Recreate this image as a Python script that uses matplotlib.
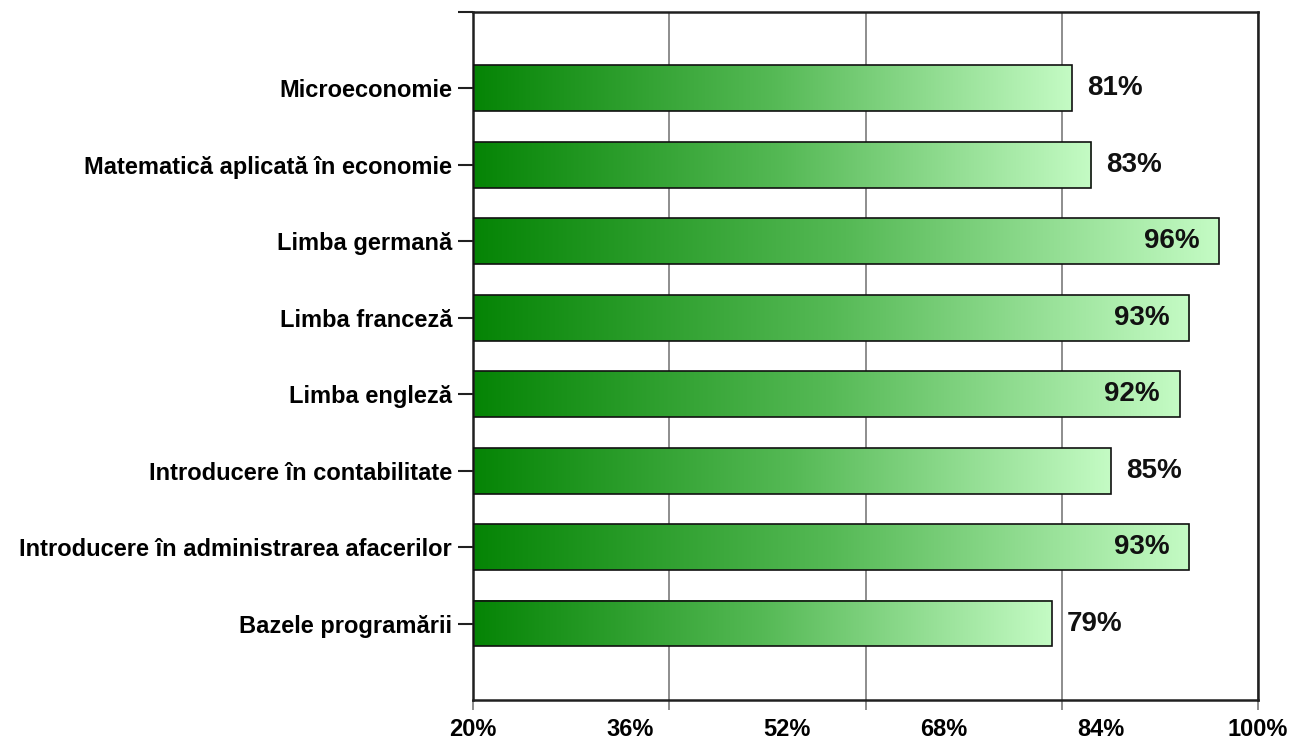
"""Horizontal bar chart with green gradient bars — pass rate per course."""

import matplotlib

matplotlib.use("Agg")
import matplotlib.pyplot as plt
import numpy as np
from matplotlib.colors import LinearSegmentedColormap

# Courses, top to bottom as they appear in the chart.
COURSES = [
    "Microeconomie",
    "Matematică aplicată în economie",
    "Limba germană",
    "Limba franceză",
    "Limba engleză",
    "Introducere în contabilitate",
    "Introducere în administrarea afacerilor",
    "Bazele programării",
]
PASS_RATE = [81, 83, 96, 93, 92, 85, 93, 79]

GRID_TICKS = [20, 40, 60, 80, 100]
LABEL_TICKS = [20, 36, 52, 68, 84, 100]
LABEL_TEXT = ["20%", "36%", "52%", "68%", "84%", "100%"]

X_MIN, X_MAX = 20, 100
BAR_HEIGHT = 0.6
INSIDE_LABEL_FROM = 90  # labels that would overflow the plot go inside

GRADIENT = LinearSegmentedColormap.from_list(
    "green_fade", ["#058405", "#55b955", "#c4fbc4"]
)
SPINE_COLOR = "#202020"
GRID_COLOR = "#7a7a7a"
FONT = "Liberation Sans"

plt.rcParams["font.family"] = [FONT, "DejaVu Sans"]
plt.rcParams["font.weight"] = "bold"

fig = plt.figure(figsize=(13.05, 7.42), dpi=100)
ax = fig.add_axes([0.3625, 0.0566, 0.6015, 0.9274])

n = len(COURSES)
ypos = np.arange(n)[::-1]  # first course on top
ramp = np.linspace(0, 1, 256).reshape(1, -1)

for y, v in zip(ypos, PASS_RATE):
    ax.imshow(
        ramp, cmap=GRADIENT, aspect="auto", interpolation="bilinear",
        extent=(X_MIN, v, y - BAR_HEIGHT / 2, y + BAR_HEIGHT / 2), zorder=2,
    )

ax.barh(
    ypos, [v - X_MIN for v in PASS_RATE], left=X_MIN, height=BAR_HEIGHT,
    facecolor="none", edgecolor="#111111", linewidth=1.2, zorder=3,
)

for y, v in zip(ypos, PASS_RATE):
    if v >= INSIDE_LABEL_FROM:
        ax.annotate(f"{v}%", (v, y), xytext=(-14, 0), textcoords="offset points",
                    ha="right", va="center", fontsize=20, fontweight="bold",
                    color="#111111", zorder=4)
    else:
        ax.annotate(f"{v}%", (v, y), xytext=(11, 0), textcoords="offset points",
                    ha="left", va="center", fontsize=20, fontweight="bold",
                    color="#111111", zorder=4)

ax.set_xlim(X_MIN, X_MAX)
ax.set_ylim(-1, n)

# Gridlines and tick marks at 20-step positions, labels at 16-step ones.
ax.xaxis.remove_overlapping_locs = False
ax.set_xticks(GRID_TICKS, labels=[""] * len(GRID_TICKS))
ax.set_xticks(LABEL_TICKS, labels=LABEL_TEXT, minor=True)
ax.tick_params(axis="x", which="major", length=7, width=1.2, color=GRID_COLOR)
ax.tick_params(axis="x", which="minor", length=0, pad=13, labelsize=17)
ax.xaxis.grid(True, which="major", color=GRID_COLOR, linewidth=1.2, zorder=0)
ax.set_axisbelow(True)

ax.set_yticks(ypos, labels=COURSES)
ax.set_yticks([n], minor=True)
ax.tick_params(axis="y", which="both", length=11, width=1.5, color=SPINE_COLOR,
               pad=4, labelsize=17)

for spine in ax.spines.values():
    spine.set_color(SPINE_COLOR)
    spine.set_linewidth(1.8)

fig.savefig("out.png", dpi=100, facecolor="white")
